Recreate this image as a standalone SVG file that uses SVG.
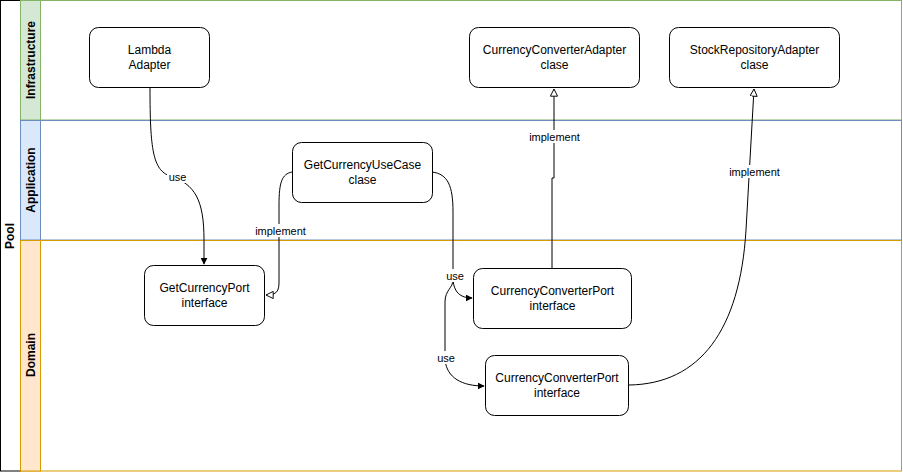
<svg xmlns="http://www.w3.org/2000/svg" width="903" height="472" viewBox="0 0 903 472">
<defs>
<style>
.node rect{fill:#fff;stroke:#000;stroke-width:1}
.node text,.lbl text{font-family:"Liberation Sans",Arial,sans-serif;font-size:12px;fill:#000;text-anchor:middle}
.lane text{font-family:"Liberation Sans",Arial,sans-serif;font-size:12px;font-weight:bold;fill:#000;text-anchor:middle}
.edge{fill:none;stroke:#000;stroke-width:1}
.lbl rect{fill:#fff}
.lbl text{font-size:11px}
</style>
<marker id="block" viewBox="0 0 10 10" refX="9" refY="5" markerWidth="7" markerHeight="7" orient="auto" markerUnits="userSpaceOnUse">
<path d="M0,0 L10,5 L0,10 Z" fill="#000"/>
</marker>
<marker id="tri" viewBox="0 0 10 10" refX="9.5" refY="5" markerWidth="8" markerHeight="8" orient="auto" markerUnits="userSpaceOnUse">
<path d="M0.5,0.5 L9.5,5 L0.5,9.5 Z" fill="#fff" stroke="#000" stroke-width="1.2"/>
</marker>
</defs>
<rect width="903" height="472" fill="#fff"/>
<g id="pool" class="lane">
<rect x="0.5" y="0.5" width="20" height="470.5" fill="#fff" stroke="#000"/>
<text transform="translate(14,236) rotate(-90)">Pool</text>
</g>
<g id="lane-infrastructure" class="lane">
<rect x="20.5" y="0.5" width="881" height="119.5" fill="#fff" stroke="#82b366"/>
<rect x="20.5" y="0.5" width="20" height="119.5" fill="#d5e8d4" stroke="#82b366"/>
<text transform="translate(34.5,60) rotate(-90)">Infrastructure</text>
</g>
<g id="lane-application" class="lane">
<rect x="20.5" y="120.5" width="881" height="119.5" fill="#fff" stroke="#6c8ebf"/>
<rect x="20.5" y="120.5" width="20" height="119.5" fill="#dae8fc" stroke="#6c8ebf"/>
<text transform="translate(34.5,180) rotate(-90)">Application</text>
</g>
<g id="lane-domain" class="lane">
<rect x="20.5" y="240.5" width="881" height="230.5" fill="#fff" stroke="#d79b00"/>
<rect x="20.5" y="240.5" width="20" height="230.5" fill="#ffe6cc" stroke="#d79b00"/>
<text transform="translate(34.5,355) rotate(-90)">Domain</text>
</g>
<g id="connectors">
<path class="edge" d="M150,88 C150,150 153,170 170,176 C195,184 204,200 204,240 L204,264" marker-end="url(#block)"/>
<path class="edge" d="M292,172 C282,174 279,182 279,205 L279,282 C279,291 277,295 266,295" marker-end="url(#tri)"/>
<path class="edge" d="M432,172 C448,174 453,186 453,212 L453,280 C454,292 460,298 472,298" marker-end="url(#block)"/>
<path class="edge" d="M453,280 C453,288 445,290 445,302 L445,360 C447,378 462,386 484,386" marker-end="url(#block)"/>
<path class="edge" d="M552,268 L552,178 L554,178 L554,89" marker-end="url(#tri)"/>
<path class="edge" d="M629,385 C700,384 740,330 746,230 L754,89" marker-end="url(#tri)"/>
<g class="lbl">
<rect x="167" y="170" width="21" height="13"/><text x="177.5" y="180.5">use</text>
<rect x="254" y="224" width="53" height="13"/><text x="280.5" y="234.5">implement</text>
<rect x="445" y="269" width="20" height="13"/><text x="455" y="279.5">use</text>
<rect x="436" y="351" width="20" height="13"/><text x="446" y="361.5">use</text>
<rect x="528" y="130" width="53" height="13"/><text x="554.5" y="140.5">implement</text>
<rect x="728" y="165" width="53" height="13"/><text x="754.5" y="175.5">implement</text>
</g>
</g>
<g id="lambda-adapter" class="node">
<rect x="89.5" y="27.5" width="120" height="60" rx="9"/>
<text x="149.5" y="54">Lambda</text><text x="149.5" y="68.5">Adapter</text>
</g>
<g id="currency-converter-adapter" class="node">
<rect x="469.5" y="27.5" width="170" height="60" rx="9"/>
<text x="554.5" y="54">CurrencyConverterAdapter</text><text x="554.5" y="68.5">clase</text>
</g>
<g id="stock-repository-adapter" class="node">
<rect x="669.5" y="27.5" width="170" height="60" rx="9"/>
<text x="754.5" y="54">StockRepositoryAdapter</text><text x="754.5" y="68.5">clase</text>
</g>
<g id="get-currency-use-case" class="node">
<rect x="292.5" y="142.5" width="140" height="60" rx="9"/>
<text x="362.5" y="169">GetCurrencyUseCase</text><text x="362.5" y="183.5">clase</text>
</g>
<g id="get-currency-port" class="node">
<rect x="144.5" y="265.5" width="120" height="60" rx="9"/>
<text x="204.5" y="292">GetCurrencyPort</text><text x="204.5" y="306.5">interface</text>
</g>
<g id="currency-converter-port-1" class="node">
<rect x="473.5" y="268.5" width="158" height="60" rx="9"/>
<text x="552.5" y="295">CurrencyConverterPort</text><text x="552.5" y="309.5">interface</text>
</g>
<g id="currency-converter-port-2" class="node">
<rect x="485.5" y="355.5" width="143" height="60" rx="9"/>
<text x="557" y="382">CurrencyConverterPort</text><text x="557" y="396.5">interface</text>
</g>
</svg>
